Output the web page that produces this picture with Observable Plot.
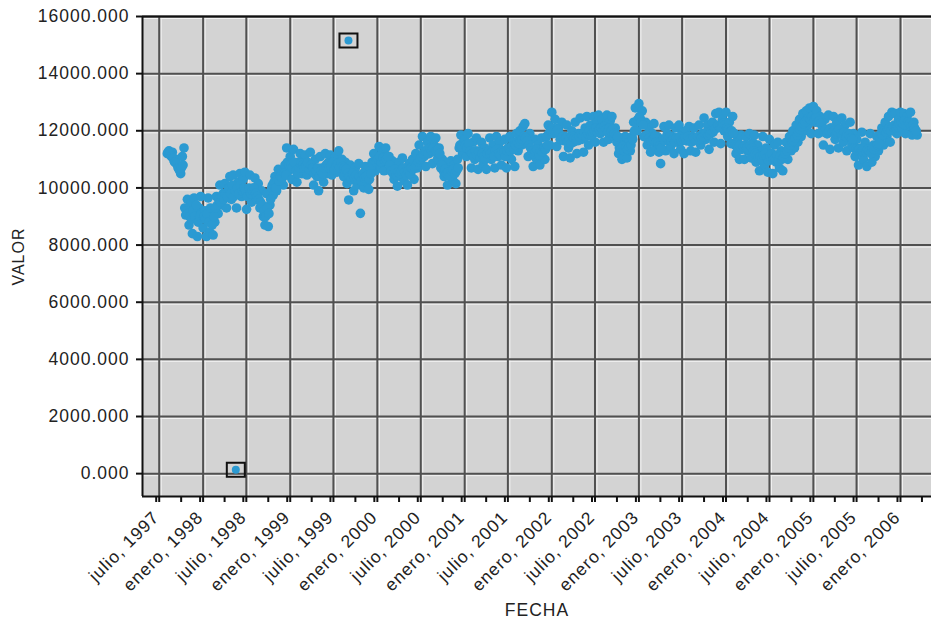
<!DOCTYPE html>
<html>
<head>
<meta charset="utf-8">
<script src="https://cdn.jsdelivr.net/npm/d3@7"></script>
<script src="https://cdn.jsdelivr.net/npm/@observablehq/plot@0.6"></script>
<style>
  html, body { margin: 0; padding: 0; background: #fff; }
  #chart svg { display: block; }
</style>
</head>
<body>
<div id="chart"></div>
<script>
// Readings taken every 7 days from each start date (two interleaved sets per year)
const start1997 = "1997-08-04";
const v1997 = [11200, 11300, 11150, 11250, 10950, 11000, 10800, 10650, 10500, 11100, 11400,
  9050, 9600, 8700, 9450, 8400, 9650, 8950, 8300, 9300, 9700];
const mid1997Start = "1997-08-07";
const m1997 = [11250, 11200, 11100, 11050, 10900, 10850, 10700, 10600, 10700, 10800, 9300,
  9200, 9100, 9000, 8900, 9200, 9000, 9400, 8800, 9000, 9100];

const start1998 = "1998-01-01";
const v1998 = [8600, 9200, 8300, 9650, 8450, 9100, 8350, 8800, 9700, 9100, 10100, 9400, 9800,
  10150, 9300, 9900, 10400, 9600, 10450, 9900, 9300, 10200, 10500, 9700, 10300, 10550, 9250,
  9800, 10450, 9500, 10000, 10350, 9600, 10150, 9300, 9900, 9000, 8700, 9800, 8650, 9400,
  10000, 9750, 10400, 9900, 10650, 10200, 10500, 10100, 10800, 11400, 10600];
const mid1998Start = "1998-01-04";
const m1998 = [9000, 8900, 9100, 8800, 9300, 8700, 9000, 9300, 9400, 9600, 9500, 9700, 9600,
  9800, 9700, 10000, 9800, 10100, 9700, 9900, 10000, 9800, 10100, 9900, 10000, 9900, 9700,
  10000, 9800, 9900, 10000, 9800, 9700, 9600, 9500, 9400, 9200, 9000, 9300, 9100, 9600,
  10100, 10200, 10000, 10300, 10250, 10400, 10350, 10500, 10450, 10900, 10800];

const start1999 = "1999-01-01";
const v1999 = [11100, 10300, 11350, 10700, 10200, 10900, 11200, 10500, 10950, 11150, 10450,
  10800, 11250, 10600, 10100, 11000, 10400, 9900, 11100, 10700, 10200, 11200, 10500, 10900,
  11150, 10450, 10800, 11100, 10550, 11300, 10700, 11000, 10400, 10900, 10150, 9580, 10800,
  10300, 9900, 10700, 10100, 10850, 9110, 10400, 10000, 10750, 10200, 9950, 10600, 10900,
  11200, 10600];
const mid1999Start = "1999-01-04";
const m1999 = [10800, 10700, 10900, 10600, 10500, 10700, 10850, 10800, 10700, 10750, 10900,
  10650, 10800, 10700, 10500, 10600, 10700, 10400, 10600, 10500, 10700, 10800, 10850, 10700,
  10750, 10900, 10650, 10800, 10850, 10700, 10900, 10750, 10700, 10650, 10500, 10400, 10300,
  10500, 10350, 10450, 10300, 10400, 10250, 10500, 10350, 10400, 10450, 10300, 10500, 10800,
  10950, 10900];

const start2000 = "2000-01-01";
const v2000 = [11000, 11450, 10700, 11300, 10600, 11400, 10900, 11100, 10600, 10950, 10300,
  10700, 10060, 10900, 10400, 11050, 10250, 10700, 10100, 10850, 10450, 11000, 10300, 11200,
  10700, 11500, 10900, 11800, 11100, 10750, 11600, 11200, 11800, 10850, 11500, 11750, 11000,
  11400, 10700, 11000, 10400, 10800, 10100, 10600, 10950, 10300, 10800, 10150, 11000, 11400,
  11850, 11200];
const mid2000Start = "2000-01-04";
const m2000 = [11000, 11100, 10900, 11050, 10950, 11000, 11100, 10800, 10600, 10500, 10650,
  10450, 10550, 10500, 10600, 10700, 10550, 10450, 10600, 10500, 10700, 10650, 10700, 10800,
  10900, 11000, 11100, 11200, 11300, 11300, 11200, 11400, 11300, 11400, 11250, 11300, 11350,
  11200, 10800, 10600, 10650, 10500, 10550, 10400, 10600, 10650, 10500, 10600, 10700, 11500,
  11450, 11600];

const start2001 = "2001-01-01";
const v2001 = [11700, 11100, 11900, 11300, 10700, 11600, 11000, 11750, 10650, 11300, 11600,
  10800, 11400, 10650, 11200, 11750, 11000, 11500, 10700, 11800, 11100, 11600, 10800, 11300,
  11700, 10700, 11400, 11800, 11000, 11600, 10750, 11900, 11300, 12000, 11500, 12150, 12250,
  11600, 11100, 11900, 11200, 10750, 11700, 11000, 11500, 10800, 11750, 11300, 11000, 11800,
  12200, 11500];
const mid2001Start = "2001-01-04";
const m2001 = [11500, 11400, 11550, 11300, 11200, 11100, 11300, 11150, 11250, 11050, 11200,
  11100, 11000, 11200, 11300, 11200, 11250, 11100, 11300, 11350, 11200, 11150, 11300, 11250,
  11100, 11300, 11400, 11300, 11450, 11350, 11500, 11600, 11550, 11650, 11700, 11800, 11750,
  11650, 11500, 11400, 11300, 11200, 11250, 11350, 11150, 11300, 11250, 11400, 11350, 11500,
  11900, 12000];

const start2002 = "2002-01-01";
const v2002 = [12650, 11900, 12400, 11450, 12100, 11700, 12300, 11100, 11800, 12200, 11400,
  11050, 12000, 11600, 12300, 11200, 11900, 12450, 11700, 11250, 12100, 12500, 11500, 12200,
  11800, 12500, 11600, 12300, 12550, 11900, 12400, 11600, 12200, 12550, 11700, 12350, 12500,
  11800, 12100, 11600, 11200, 11750, 11000, 11500, 11800, 11050, 11600, 11300, 11800, 12300,
  12800, 12000];
const mid2002Start = "2002-01-04";
const m2002 = [12100, 12000, 11950, 12050, 11900, 11700, 11800, 11650, 11750, 11600, 11700,
  11550, 11800, 11750, 11700, 11650, 11800, 11900, 11850, 11950, 11800, 11900, 12000, 11850,
  11950, 12000, 12100, 11950, 12050, 12100, 12000, 12150, 12050, 11950, 12100, 12000, 12050,
  11900, 11850, 11800, 11400, 11350, 11450, 11300, 11400, 11350, 11450, 11500, 11700, 12000,
  12300, 12400];

const start2003 = "2003-01-01";
const v2003 = [12950, 12400, 12700, 11800, 12300, 11500, 12100, 11250, 11900, 12250, 11400,
  11800, 11250, 10850, 11700, 12150, 11300, 11900, 12200, 11450, 11800, 11200, 12100, 11600,
  12200, 11350, 11900, 11200, 12000, 11650, 12150, 11300, 11800, 12100, 11250, 11750, 12200,
  11500, 11900, 12450, 11700, 12200, 11350, 11900, 12300, 11600, 12600, 12100, 12650, 11550,
  12400, 12000];
const mid2003Start = "2003-01-04";
const m2003 = [12500, 12300, 12200, 11800, 11850, 11700, 11750, 11650, 11700, 11800, 11600,
  11550, 11500, 11400, 11700, 11650, 11750, 11700, 11800, 11650, 11700, 11600, 11750, 11700,
  11800, 11650, 11700, 11750, 11650, 11800, 11700, 11600, 11750, 11700, 11650, 11800, 11700,
  11750, 11800, 11900, 11950, 11850, 11900, 12000, 11950, 12050, 12100, 12200, 12150, 12100,
  12250, 12200];

const start2004 = "2004-01-01";
const v2004 = [12650, 11800, 12300, 11550, 12500, 11900, 11200, 11700, 11000, 11850, 11400,
  11000, 11800, 11300, 11900, 11050, 11600, 11850, 10900, 11500, 10600, 11300, 11800, 10800,
  11400, 10550, 11700, 11000, 10500, 11500, 10900, 11600, 10700, 11300, 10600, 11200, 11600,
  11000, 11800, 11300, 12000, 11400, 12200, 11600, 12400, 11800, 12600, 12000, 12700, 12200,
  12800, 11900];
const mid2004Start = "2004-01-04";
const m2004 = [12100, 12050, 11950, 12000, 11900, 11500, 11450, 11400, 11500, 11350, 11450,
  11500, 11400, 11350, 11500, 11400, 11300, 11200, 11150, 11050, 11100, 11000, 11150, 11200,
  11050, 10950, 11100, 11200, 11000, 11050, 11150, 10950, 11100, 11000, 11050, 11200, 11300,
  11400, 11500, 11600, 11650, 11750, 11850, 11950, 12050, 12150, 12250, 12300, 12400, 12450,
  12400, 12500];

const start2005 = "2005-01-01";
const v2005 = [12850, 12300, 12700, 11900, 12500, 12200, 11500, 12400, 11900, 12550, 11350,
  12100, 12500, 11700, 12300, 11400, 12000, 12450, 11600, 12200, 11300, 11900, 12300, 11500,
  11900, 11100, 11700, 10800, 11400, 11950, 11000, 11600, 10750, 11300, 11900, 10900, 11500,
  11100, 11800, 11300, 11700, 12100, 11500, 12300, 11800, 12500, 11600, 12650, 12000, 12600,
  11900, 12400];
const mid2005Start = "2005-01-04";
const m2005 = [12400, 12450, 12300, 12350, 12250, 12000, 11950, 12050, 11900, 12000, 12100,
  11950, 12000, 11900, 11950, 12050, 11900, 11850, 11950, 11800, 11900, 11850, 11750, 11700,
  11400, 11350, 11300, 11350, 11250, 11300, 11400, 11250, 11350, 11300, 11200, 11400, 11350,
  11450, 11500, 11550, 11900, 11850, 12000, 11950, 12050, 12100, 12000, 12150, 12200, 12100,
  12150, 12250];

const start2006 = "2006-01-01";
const v2006 = [12650, 12100, 12600, 11900, 12500, 12200, 12650, 11850, 12300, 12000, 11850];
const mid2006Start = "2006-01-04";
const m2006 = [12300, 12250, 12350, 12200, 12300, 12250, 12150, 12200, 12100, 12000];

// Two flagged outliers
const outlierDates = ["1998-05-18", "1999-09-02"];
const outlierValues = [140, 15160];

// Axis ticks
const yTicks = [0, 2000, 4000, 6000, 8000, 10000, 12000, 14000, 16000];
const xTickDates = ["1997-07-01", "1998-01-01", "1998-07-01", "1999-01-01", "1999-07-01",
  "2000-01-01", "2000-07-01", "2001-01-01", "2001-07-01", "2002-01-01", "2002-07-01",
  "2003-01-01", "2003-07-01", "2004-01-01", "2004-07-01", "2005-01-01", "2005-07-01", "2006-01-01"];
const xTickLabels = ["julio, 1997", "enero, 1998", "julio, 1998", "enero, 1999", "julio, 1999",
  "enero, 2000", "julio, 2000", "enero, 2001", "julio, 2001", "enero, 2002", "julio, 2002",
  "enero, 2003", "julio, 2003", "enero, 2004", "julio, 2004", "enero, 2005", "julio, 2005", "enero, 2006"];

const series = [[start1997, v1997], [mid1997Start, m1997], [start1998, v1998], [mid1998Start, m1998],
  [start1999, v1999], [mid1999Start, m1999], [start2000, v2000], [mid2000Start, m2000],
  [start2001, v2001], [mid2001Start, m2001], [start2002, v2002], [mid2002Start, m2002],
  [start2003, v2003], [mid2003Start, m2003], [start2004, v2004], [mid2004Start, m2004],
  [start2005, v2005], [mid2005Start, m2005], [start2006, v2006], [mid2006Start, m2006]];
const data = series.flatMap(([s, vals]) =>
  vals.map((v, k) => ({date: d3.utcDay.offset(new Date(s), 7 * k), value: v})));
const outliers = outlierDates.map((d, i) => ({date: new Date(d), value: outlierValues[i]}));

const majorDates = xTickDates.map(d => new Date(d));
const labelMap = new Map(majorDates.map((d, i) => [+d, xTickLabels[i]]));
const quarterDates = d3.utcMonth.range(new Date("1997-07-01"), new Date("2006-04-02"), 3);

const xDomain = [new Date("1997-04-22"), new Date("2006-05-11")];
const yDomain = [-800, 16000];

const boxSymbol = { draw(ctx) { ctx.rect(-9, -7, 18, 14); } };

const chart = Plot.plot({
  width: 931,
  height: 621,
  marginLeft: 142,
  marginRight: 0,
  marginTop: 16,
  marginBottom: 125,
  style: {fontFamily: "'Liberation Sans', Arial, sans-serif", fontSize: "17px", color: "#222",
          background: "#fff", letterSpacing: "1px"},
  x: {type: "utc", domain: xDomain},
  y: {domain: yDomain},
  marks: [
    Plot.frame({fill: "#d3d3d3", stroke: null}),
    Plot.ruleX(majorDates, {stroke: "#f2f2f2", strokeWidth: 1, dx: 2}),
    Plot.ruleY(yTicks, {stroke: "#f2f2f2", strokeWidth: 1, dy: 2}),
    Plot.ruleX(majorDates, {stroke: "#505050", strokeWidth: 2}),
    Plot.ruleY(yTicks, {stroke: "#505050", strokeWidth: 2}),
    Plot.ruleX([xDomain[0]], {stroke: "#111", strokeWidth: 2}),
    Plot.ruleY([yDomain[0], yDomain[1]], {stroke: "#111", strokeWidth: 2}),
    Plot.axisY(yTicks, {
      tickFormat: d3.format(".3f"), tickSize: 6, tickPadding: 7, stroke: "#111", strokeWidth: 2,
      fontSize: 17.5, label: null
    }),
    Plot.axisY({
      ticks: [], tickSize: 0, label: "VALOR", labelAnchor: "center", labelArrow: "none",
      labelOffset: 130, fontSize: 16
    }),
    Plot.axisX(quarterDates, {tickFormat: () => "", tickSize: 6, stroke: "#111", strokeWidth: 2, label: null}),
    Plot.axisX(majorDates, {
      tickFormat: d => labelMap.get(+d), tickRotate: -45, tickSize: 6, tickPadding: 12, dx: -3,
      stroke: "#111", strokeWidth: 2, fontSize: 17.5,
      label: "FECHA", labelAnchor: "center", labelArrow: "none", labelOffset: 119
    }),
    Plot.dot(data, {x: "date", y: "value", r: 4.8, fill: "#2b9ad2"}),
    Plot.dot(outliers, {x: "date", y: "value", symbol: boxSymbol, r: 5, stroke: "#111", strokeWidth: 2, fill: "none"}),
    Plot.dot(outliers, {x: "date", y: "value", r: 4, fill: "#2b9ad2"})
  ]
});
document.getElementById("chart").appendChild(chart);
</script>
</body>
</html>
